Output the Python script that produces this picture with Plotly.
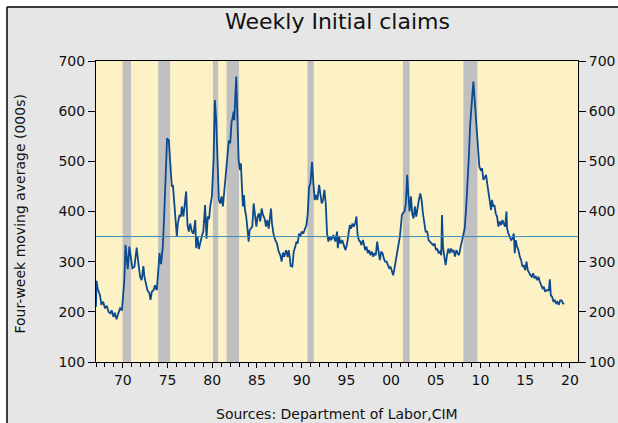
import plotly.graph_objects as go

# ---- data (year, four-week average in 000s) ----
years = [
    1967.0, 1967.05, 1967.2, 1967.45, 1967.6, 1967.8, 1968.0, 1968.2, 1968.4, 1968.6, 1968.75, 1968.95,
    1969.1, 1969.3, 1969.5, 1969.7, 1969.9, 1970.06, 1970.17, 1970.3, 1970.42, 1970.55, 1970.73, 1970.9,
    1971.07, 1971.3, 1971.55, 1971.74, 1971.93, 1972.1, 1972.3, 1972.41, 1972.6, 1972.75, 1972.97, 1973.09,
    1973.24, 1973.42, 1973.6, 1973.8, 1974.0, 1974.1, 1974.28, 1974.47, 1974.62, 1974.77, 1974.95, 1975.14,
    1975.3, 1975.48, 1975.6, 1975.74, 1975.9, 1976.04, 1976.15, 1976.34, 1976.5, 1976.6, 1976.78, 1976.97,
    1977.08, 1977.23, 1977.38, 1977.53, 1977.72, 1977.9, 1978.1, 1978.2, 1978.35, 1978.5, 1978.65, 1978.84,
    1979.0, 1979.2, 1979.36, 1979.5, 1979.65,
    1979.77, 1979.96, 1980.15, 1980.29, 1980.44, 1980.59, 1980.74, 1980.89, 1981.04, 1981.19, 1981.34, 1981.53,
    1981.71, 1981.86, 1982.01, 1982.16, 1982.27, 1982.39, 1982.46, 1982.57, 1982.68, 1982.8, 1982.95, 1983.1,
    1983.2, 1983.32, 1983.43, 1983.54, 1983.66, 1983.8, 1983.95, 1984.07, 1984.18, 1984.33, 1984.48, 1984.63,
    1984.78, 1984.93, 1985.07, 1985.22, 1985.37, 1985.52, 1985.67, 1985.86, 1986.01, 1986.16, 1986.31, 1986.42,
    1986.57, 1986.68, 1986.87, 1987.05, 1987.24, 1987.43, 1987.61, 1987.76, 1987.91, 1988.06, 1988.25, 1988.44,
    1988.55, 1988.66, 1988.77, 1988.96, 1989.11, 1989.29, 1989.41, 1989.55, 1989.7, 1989.85, 1990.0, 1990.17,
    1990.34, 1990.53, 1990.68, 1990.83, 1990.98, 1991.16, 1991.31, 1991.46, 1991.61, 1991.76, 1991.95, 1992.1,
    1992.24, 1992.39, 1992.54, 1992.69, 1992.84, 1992.99, 1993.14,
    1993.3, 1993.55, 1993.77, 1993.96, 1994.04, 1994.19, 1994.34, 1994.53, 1994.71, 1994.9, 1995.08, 1995.27,
    1995.38, 1995.53, 1995.68, 1995.83, 1995.98, 1996.13, 1996.24, 1996.39, 1996.54, 1996.69, 1996.84, 1996.95,
    1997.1, 1997.25, 1997.4, 1997.55, 1997.7, 1997.85, 1998.0, 1998.14, 1998.29, 1998.44, 1998.59, 1998.74,
    1998.89, 1999.04, 1999.19, 1999.34, 1999.49, 1999.64, 1999.79, 1999.94, 2000.09, 2000.23, 2000.38, 2000.53,
    2000.68, 2000.83, 2000.98, 2001.09, 2001.21, 2001.36, 2001.5, 2001.65, 2001.8, 2001.92, 2002.07, 2002.22,
    2002.36, 2002.51, 2002.66, 2002.81, 2002.96, 2003.11, 2003.26, 2003.41, 2003.56, 2003.71, 2003.86, 2004.04,
    2004.19, 2004.34, 2004.53, 2004.72, 2004.87, 2005.02, 2005.17, 2005.31, 2005.46, 2005.61, 2005.69, 2005.8,
    2005.95, 2006.1, 2006.25, 2006.4, 2006.55,
    2006.7, 2006.85, 2007.0, 2007.14, 2007.3, 2007.44, 2007.59, 2007.78, 2007.93, 2008.08, 2008.23, 2008.38,
    2008.53, 2008.68, 2008.83, 2008.98, 2009.12, 2009.2, 2009.31, 2009.42, 2009.57, 2009.72, 2009.87, 2010.02,
    2010.17, 2010.32, 2010.47, 2010.62, 2010.77, 2010.92, 2011.07, 2011.18, 2011.29, 2011.4, 2011.55, 2011.7,
    2011.85, 2012.0, 2012.15, 2012.3, 2012.45, 2012.6, 2012.75, 2012.9, 2012.97, 2013.12, 2013.27, 2013.42,
    2013.57, 2013.72, 2013.83, 2013.94, 2014.09, 2014.24, 2014.39, 2014.54, 2014.69, 2014.84, 2014.99, 2015.14,
    2015.28, 2015.43, 2015.58, 2015.73, 2015.88, 2016.03, 2016.18, 2016.33, 2016.48, 2016.63, 2016.78, 2016.93,
    2017.08, 2017.23, 2017.38, 2017.53, 2017.64, 2017.75, 2017.86, 2018.01, 2018.16, 2018.31, 2018.46, 2018.6,
    2018.76, 2018.91, 2019.06, 2019.21, 2019.36,
]
claims = [
    210, 262, 245, 233, 214, 220, 207, 212, 200, 197, 203, 190,
    198, 185, 197, 207, 203, 243, 263, 333, 305, 285, 330, 303,
    287, 290, 328, 297, 270, 263, 291, 270, 257, 243, 237, 224,
    240, 243, 253, 243, 290, 317, 295, 330, 390, 449, 546, 542,
    502, 449, 453, 423, 390, 350, 376, 393, 390, 410, 390, 423,
    440, 373, 360, 376, 360, 356, 383, 327, 350, 325, 340, 351,
    360, 413, 346, 390, 385,
    410, 430, 503, 622, 582, 503, 423, 416, 430, 410, 440, 483,
    523, 542, 536, 579, 586, 599, 582, 635, 669, 595, 503, 483,
    496, 449, 410, 433, 403, 390, 363, 340, 363, 366, 370, 416,
    390, 370, 390, 396, 380, 406, 393, 386, 370, 383, 366, 390,
    406, 376, 353, 343, 336, 320, 313, 300, 318, 310, 323, 309,
    323, 310, 291, 290, 320, 330, 340, 336, 356, 350, 360, 356,
    366, 373, 396, 449, 456, 499, 456, 423, 433, 423, 453, 436,
    416, 423, 443, 416, 356, 340, 350,
    343, 353, 340, 360, 327, 350, 336, 343, 333, 323, 336, 363,
    373, 366, 376, 370, 376, 390, 356, 343, 340, 333, 343, 336,
    323, 330, 317, 323, 313, 320, 310, 317, 313, 340, 317, 303,
    320, 317, 306, 300, 300, 293, 287, 290, 283, 273, 287, 303,
    310, 330, 350, 370, 393, 398, 400, 416, 473, 436, 400, 430,
    396, 386, 410, 390, 410, 423, 436, 423, 396, 376, 360, 360,
    343, 340, 336, 333, 336, 323, 326, 317, 320, 313, 393, 330,
    310, 293, 313, 326, 317,
    326, 320, 323, 310, 323, 317, 313, 330, 343, 353, 366, 403,
    449, 503, 569, 622, 642, 659, 629, 596, 556, 522, 489, 483,
    486, 463, 469, 473, 453, 430, 416, 403, 423, 410, 413, 396,
    390, 370, 380, 373, 383, 376, 370, 400, 366, 356, 350, 343,
    346, 356, 317, 343, 330, 323, 310, 303, 290, 293, 283, 300,
    283, 277, 273, 270, 277, 267, 270, 263, 270, 260, 253, 247,
    250, 240, 243, 243, 243, 265, 233, 230, 220, 223, 217, 220,
    214, 223, 223, 217, 216,
]

recession_start = [1969.97, 1973.95, 1980.07, 1981.6, 1990.64, 2001.32, 2008.08]
recession_end = [1970.92, 1975.29, 1980.67, 1983.0, 1991.35, 2002.07, 2009.65]

reference_level = 350
x_range = [1967, 2020.9]
y_range = [100, 700]
x_tick_vals = [1970, 1975, 1980, 1985, 1990, 1995, 2000, 2005, 2010, 2015, 2020]
x_tick_text = ["70", "75", "80", "85", "90", "95", "00", "05", "10", "15", "20"]
y_tick_vals = [100, 200, 300, 400, 500, 600, 700]

title_text = "Weekly Initial claims"
y_title_text = "Four-week moving average (000s)"
source_text = "Sources: Department of Labor,CIM"

FONT = "DejaVu Sans"
TXT = "#111111"

fig = go.Figure()

fig.add_trace(go.Scatter(
    x=x_range, y=[reference_level, reference_level], mode="lines",
    line=dict(color="#3a8ab8", width=1), yaxis="y2", hoverinfo="skip", showlegend=False,
))
fig.add_trace(go.Scatter(
    x=years, y=claims, mode="lines",
    line=dict(color="#0b4a8e", width=1.8), showlegend=False,
))

shapes = []
for s, e in zip(recession_start, recession_end):
    shapes.append(dict(type="rect", xref="x", yref="paper", x0=s, x1=e, y0=0, y1=1,
                       fillcolor="#c0c0c0", line=dict(width=0), layer="below"))

# frame around the figure (white outside, black edge)
fx = (7 - 96) / 482
fy = 1 + (61 - 7) / 301
shapes += [
    dict(type="rect", xref="paper", yref="paper", x0=-0.5, x1=fx, y0=-0.5, y1=1.6,
         fillcolor="white", line=dict(width=0)),
    dict(type="rect", xref="paper", yref="paper", x0=-0.5, x1=1.6, y0=fy, y1=1.6,
         fillcolor="white", line=dict(width=0)),
    dict(type="line", xref="paper", yref="paper", x0=fx, x1=fx, y0=-0.5, y1=fy,
         line=dict(color="black", width=1.5)),
    dict(type="line", xref="paper", yref="paper", x0=fx, x1=1.6, y0=fy, y1=fy,
         line=dict(color="black", width=1.5)),
]

fig.update_layout(
    width=618, height=423,
    autosize=False,
    margin=dict(l=96, r=40, t=61, b=61, pad=0, autoexpand=False),
    paper_bgcolor="#e6e6e6",
    plot_bgcolor="#fdf2c5",
    showlegend=False,
    hovermode=False,
    shapes=shapes,
    font=dict(family=FONT, size=14, color=TXT),
    xaxis=dict(
        range=x_range, tickmode="array", tickvals=x_tick_vals, ticktext=x_tick_text,
        ticks="outside", ticklen=5, tickwidth=1, tickcolor="black",
        showline=True, linecolor="black", linewidth=1, mirror=True,
        showgrid=False, zeroline=False, automargin=False,
        tickfont=dict(family=FONT, size=14, color=TXT),
        minor=dict(tickmode="linear", tick0=1967, dtick=1, ticks="outside", ticklen=4,
                   tickwidth=1, tickcolor="black", showgrid=False),
    ),
    yaxis=dict(
        range=y_range, tickmode="array", tickvals=y_tick_vals,
        ticks="outside", ticklen=7, tickwidth=1, tickcolor="black",
        showline=True, linecolor="black", linewidth=1, mirror=True,
        showgrid=False, zeroline=False, automargin=False,
        tickfont=dict(family=FONT, size=14, color=TXT),
    ),
    yaxis2=dict(
        range=y_range, tickmode="array", tickvals=y_tick_vals,
        overlaying="y", side="right",
        ticks="outside", ticklen=7, tickwidth=1, tickcolor="black",
        showline=False, showgrid=False, zeroline=False, automargin=False,
        tickfont=dict(family=FONT, size=14, color=TXT),
    ),
    annotations=[
        dict(text=title_text, xref="paper", yref="paper", x=0.5, y=1 + (61 - 21) / 301,
             xanchor="center", yanchor="middle", showarrow=False,
             font=dict(family=FONT, size=22, color=TXT)),
        dict(text=y_title_text, xref="paper", yref="paper", x=(19.5 - 96) / 482, y=(362 - 214) / 301,
             xanchor="center", yanchor="middle", textangle=-90, showarrow=False,
             font=dict(family=FONT, size=14, color=TXT)),
        dict(text=source_text, xref="paper", yref="paper", x=0.5, y=(362 - 414) / 301,
             xanchor="center", yanchor="middle", showarrow=False,
             font=dict(family=FONT, size=14, color=TXT)),
    ],
)

fig.write_html(
    "out.html",
    config={"displayModeBar": False, "staticPlot": True},
    post_script="document.body.style.margin='0';document.body.style.padding='0';"
                "document.body.style.overflow='hidden';",
)
